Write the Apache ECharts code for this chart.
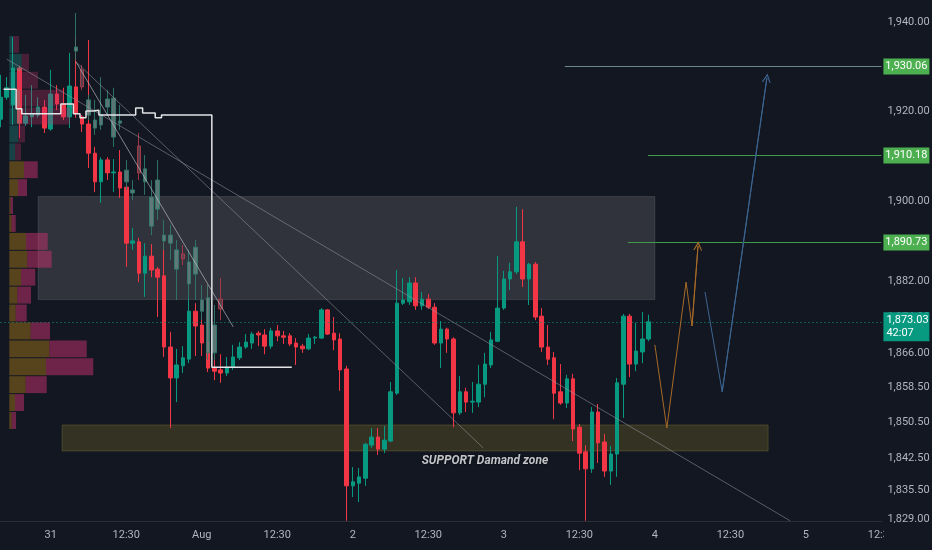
<!DOCTYPE html>
<html><head><meta charset="utf-8">
<script src="https://cdn.jsdelivr.net/npm/echarts@6/dist/echarts.min.js"></script>
<style>html,body{margin:0;padding:0;background:#131722;}#c{width:932px;height:550px;}</style>
</head><body><div id="c"></div>
<script>
// ---- axes ----
const slotCount = 141;
const categories = Array.from({length: slotCount}, (_, i) => 'bar ' + i);
const tickIndex = [8, 20, 32, 44, 56, 68, 80, 92, 104, 116, 128, 140];
const tickLabels = ['31', '12:30', 'Aug', '12:30', '2', '12:30', '3', '12:30', '4', '12:30', '5', '12:30'];
const priceTicks = [1829, 1835.5, 1842.5, 1850.5, 1858.5, 1866, 1874, 1882, 1900, 1920, 1940];
const priceMin = 1828.55, priceMax = 1944.91;

// ---- hourly candles ----
const openP = [1918.3,1923.2,1921.5,1929.7,1917.4,1918.8,1919.2,1921.0,1916.1,1923.9,
 1921.7,1918.8,1925.5,1918.8,1917.2,1910.7,1904.3,1909.2,1906.3,1906.5,
 1903.1,1890.6,1890.9,1883.9,1887.7,1884.8,1883.3,1867.4,1860.5,1863.2,
 1864.7,1875.4,1872.3,1868.5,1862.7,1862.3,1861.6,1862.9,1865.0,1867.4,
 1868.3,1870.5,1870.1,1867.6,1871.0,1869.9,1869.9,1868.3,1867.6,1867.0,
 1869.4,1869.4,1875.7,1870.5,1869.2,1862.5,1836.4,1837.0,1838.1,1845.5,
 1847.3,1844.6,1846.4,1857.1,1877.2,1877.5,1881.7,1876.6,1878.1,1876.3,
 1868.3,1871.4,1869.2,1852.7,1857.4,1855.1,1855.1,1859.1,1863.4,1868.7,
 1876.1,1882.6,1884.2,1890.9,1882.6,1885.9,1874.3,1867.4,1865.0,1857.4,
 1854.9,1860.3,1849.5,1844.0,1840.2,1852.9,1846.2,1839.7,1843.5,1859.1,
 1874.3,1863.6,1866.3,1869.2];
const closeP = [1923.2,1925.3,1929.7,1917.4,1919.0,1919.5,1921.0,1916.3,1923.9,1921.7,
 1918.8,1925.7,1919.5,1917.2,1910.7,1904.3,1909.2,1906.3,1906.5,1902.9,
 1890.6,1891.1,1883.9,1887.7,1884.6,1883.0,1867.4,1860.5,1863.4,1865.0,
 1875.4,1872.1,1868.3,1862.7,1862.0,1861.6,1862.9,1865.2,1867.4,1868.5,
 1870.3,1870.1,1867.6,1871.0,1869.9,1869.6,1868.1,1867.4,1867.0,1869.4,
 1869.6,1875.7,1870.3,1869.0,1862.3,1836.4,1837.3,1838.4,1845.7,1847.3,
 1844.6,1846.6,1857.4,1877.2,1877.9,1881.7,1876.6,1878.1,1876.3,1868.3,
 1871.4,1869.2,1852.7,1857.4,1855.1,1855.3,1859.1,1863.6,1869.0,1876.1,
 1882.6,1884.2,1890.9,1882.6,1885.9,1874.1,1867.4,1864.7,1857.1,1854.9,
 1860.3,1849.1,1843.7,1840.2,1852.9,1846.0,1839.7,1843.5,1859.4,1874.3,
 1863.6,1866.5,1869.2,1873.03];
const lowP = [1916.5,1922.6,1917.0,1914.1,1916.8,1916.5,1918.6,1915.2,1915.7,1920.3,
 1918.1,1916.3,1918.6,1915.4,1907.4,1902.0,1899.6,1904.7,1902.0,1900.7,
 1885.3,1889.1,1881.9,1878.6,1883.0,1874.1,1865.2,1849.3,1855.1,1861.6,
 1863.8,1865.4,1865.4,1861.8,1860.0,1859.4,1860.9,1862.3,1864.5,1867.0,
 1867.0,1867.6,1865.8,1867.0,1868.7,1868.1,1867.6,1863.4,1866.1,1866.7,
 1868.1,1869.2,1870.1,1866.7,1857.6,1828.6,1833.9,1832.8,1836.4,1844.8,
 1843.3,1843.7,1846.2,1856.7,1876.8,1876.8,1875.7,1875.7,1875.9,1867.9,
 1862.7,1866.1,1849.5,1852.2,1852.9,1852.7,1854.0,1856.2,1862.7,1868.5,
 1875.7,1880.1,1883.7,1880.8,1876.8,1873.4,1866.3,1863.4,1851.3,1854.5,
 1853.8,1846.4,1839.9,1828.6,1839.3,1841.5,1838.4,1836.6,1838.4,1851.6,
 1860.7,1862.0,1863.8,1868.7];
const highP = [1928.2,1927.7,1936.6,1930.2,1923.7,1925.9,1923.2,1922.6,1929.3,1925.9,
 1925.3,1933.1,1936.6,1919.2,1936.0,1912.1,1909.8,1909.8,1909.4,1911.4,
 1903.6,1894.0,1891.8,1890.6,1890.4,1885.3,1891.3,1870.8,1867.0,1867.6,
 1878.6,1877.2,1874.1,1881.3,1865.2,1865.8,1865.2,1867.9,1868.5,1870.3,
 1870.8,1871.0,1871.4,1871.7,1872.3,1871.0,1870.5,1869.4,1868.1,1870.3,
 1869.9,1876.1,1875.9,1874.1,1870.5,1863.2,1840.6,1840.4,1846.0,1849.3,
 1849.3,1849.8,1859.6,1884.6,1882.8,1883.0,1883.0,1879.7,1879.2,1877.2,
 1873.2,1871.7,1869.6,1860.9,1858.3,1859.6,1863.4,1866.1,1870.8,1887.7,
 1884.4,1886.2,1898.7,1898.2,1886.2,1886.4,1876.1,1872.3,1866.3,1863.6,
 1861.2,1861.4,1850.2,1845.5,1854.0,1854.7,1848.0,1845.3,1860.5,1874.8,
 1874.8,1872.8,1875.2,1874.6];

// ---- faded "bars pattern" projection ----
const ghostStart = 12;
const ghostOpen = [1933.5,1929.3,1919.2,1916.3,1917.0,1921.0,1914.3,1917.4,1904.3,1901.8,1912.3,1904.3,1894.4,1898.2,1891.1,1890.6,1884.8,1888.2,1881.5,1883.7,1875.4,1866.1,1866.1,1878.1];
const ghostClose = [1934.4,1925.5,1922.6,1918.1,1919.2,1922.8,1923.0,1917.9,1906.9,1902.5,1906.3,1907.2,1900.9,1904.7,1892.4,1892.4,1889.1,1887.1,1886.4,1889.7,1877.9,1878.4,1872.3,1875.9];
const ghostLow = [1931.5,1924.8,1918.1,1914.8,1915.9,1919.2,1912.1,1915.9,1902.5,1900.2,1904.7,1901.4,1892.4,1895.8,1889.1,1886.8,1877.9,1885.7,1877.9,1877.9,1873.4,1864.5,1864.5,1873.4];
const ghostHigh = [1942.0,1930.4,1923.7,1922.6,1927.7,1924.8,1925.3,1921.5,1909.2,1904.7,1915.2,1910.3,1904.7,1909.2,1895.8,1894.7,1891.3,1890.2,1889.1,1891.3,1881.3,1881.3,1876.8,1882.8];

// ---- volume profile (rows of 4 USD from 1849) ----
const vpBottom = 1849, vpStep = 4, vaTopRow = 14;
const vpUp =   [2.4,5.7,16.4,36.7,40.0,21.4,6.4,8.0,11.7,18.0,16.7,2.4,1.4,8.7,14.7,5.7,9.0,10.7,10.7,7.7,12.4,4.0];
const vpDown = [4.3,9.0,21.0,47.3,37.4,19.3,11.0,13.7,14.3,24.4,21.7,4.0,2.3,9.0,13.7,6.0,6.7,50.0,43.0,21.0,7.3,5.7];

// ---- drawings (x in bar units, y in price) ----
const resistZone = [[6.0, 1901.0], [104.0, 1878.0]];
const supportZone = [[9.8, 1850.0], [122.0, 1844.2]];
const supportText = 'SUPPORT Damand zone';
const supportTextAt = [77.0, 1841.9];
const levelValues = [1930.06, 1910.18, 1890.73];
const levelStart = [89.7, 102.9, 99.7];
const lastPrice = 1873.03, countdown = '42:07';
const trendStart = [[12.0, 1931.1], [12.0, 1931.1], [1.0, 1931.7]];
const trendEnd = [[37.0, 1871.9], [76.7, 1844.9], [125.5, 1828.6]];
const pathOrange = [[104.0, 1867.9], [105.9, 1849.3], [108.96, 1881.9], [109.9, 1872.1], [110.86, 1890.0]];
const pathBlue = [[111.97, 1879.7], [114.7, 1857.4], [121.8, 1927.5]];
const stepLine = [[0.5,1925.0],[2.5,1920.6],[3.4,1919.5],[9.6,1921.7],[11.6,1919.5],[12.65,1918.6],[13.6,1920.1],[14.7,1920.3],[15.65,1919.2],[21.5,1920.8],[22.6,1919.7],[24.6,1918.6],[25.6,1919.2],[33.6,1862.9],[46.3,1862.9]];

// ---------------------------------------------------------------
const FONT = 'Roboto, "DejaVu Sans", sans-serif';
const LABEL = '#b2b5be';
const ORANGE = '#a86a26', BLUE = '#3c6592';
const fmt = v => v.toLocaleString('en-US', {minimumFractionDigits: 2, maximumFractionDigits: 2});
const candleData = openP.map((o, i) => [o, closeP[i], lowP[i], highP[i]]);
const ghostData = ghostOpen.map((o, j) => [ghostStart + j, o, ghostClose[j], ghostLow[j], ghostHigh[j]]);
const vpData = vpUp.map((u, i) => [u, vpBottom + i * vpStep + vpStep / 2, vpDown[i], i]);
const lastIdx = slotCount - 1;
const chevron = 'path://M5,0 L10,9 L8.6,9 L5,2.6 L1.4,9 L0,9 Z';
const lastSeg = p => [p[p.length - 2], p[p.length - 1]];

const chart = echarts.init(document.getElementById('c'));
chart.setOption({
  animation: false,
  backgroundColor: '#131722',
  textStyle: {fontFamily: FONT},
  grid: {left: 0.4, right: 50.6, top: 0, bottom: 29, containLabel: false, outerBoundsMode: 'none'},
  xAxis: [
    {type: 'category', data: categories, boundaryGap: false,
     axisLine: {show: true, lineStyle: {color: '#2a2e39'}}, axisTick: {show: false},
     splitLine: {show: false},
     axisLabel: {interval: (i) => tickIndex.includes(i),
       formatter: (v, i) => tickLabels[tickIndex.indexOf(i)] || '',
       color: LABEL, fontSize: 11, margin: 9, fontFamily: FONT}},
    {type: 'value', min: 0, max: lastIdx, show: false},
    {type: 'value', min: -8.9, max: 872.05, show: false}
  ],
  yAxis: {type: 'value', position: 'right', min: priceMin, max: priceMax, scale: true,
    axisLine: {show: false}, axisTick: {show: false}, splitLine: {show: false},
    axisLabel: {customValues: priceTicks, formatter: fmt, color: LABEL, fontSize: 11, margin: 6, fontFamily: FONT}},
  graphic: [{type: 'rect', left: 884, top: 523, shape: {width: 48, height: 27}, style: {fill: '#131722'}, z: 100}],
  series: [
    {type: 'candlestick', name: 'XAUUSD', xAxisIndex: 0, yAxisIndex: 0, z: 2, barWidth: 4,
     data: candleData,
     itemStyle: {color: '#089981', color0: '#f23645', borderColor: '#089981', borderColor0: '#f23645', borderWidth: 1}},
    {type: 'candlestick', name: 'pattern', xAxisIndex: 0, yAxisIndex: 0, z: 3, barWidth: 4,
     data: ghostData, encode: {x: 0, y: [1, 2, 3, 4]},
     itemStyle: {color: '#66827f', color0: '#624652', borderColor: '#2f7c6e', borderColor0: '#b33a4a', borderWidth: 1, opacity: 0.88}},
    {type: 'line', name: 'zones', xAxisIndex: 1, yAxisIndex: 0, z: 4, data: [], silent: true,
     markArea: {silent: true, data: [
       [{coord: resistZone[0], itemStyle: {color: 'rgba(135,135,140,0.25)', borderColor: 'rgba(150,150,155,0.22)', borderWidth: 1}}, {coord: resistZone[1]}],
       [{coord: supportZone[0], itemStyle: {color: 'rgba(150,135,40,0.25)', borderColor: 'rgba(150,140,60,0.3)', borderWidth: 1}}, {coord: supportZone[1]}]
     ]}},
    {type: 'custom', name: 'volume profile', xAxisIndex: 2, yAxisIndex: 0, z: 5, silent: true,
     data: vpData, encode: {x: 0, y: 1},
     renderItem: (params, api) => {
       const up = api.value(0), mid = api.value(1), dn = api.value(2), row = api.value(3);
       const lo = mid - vpStep / 2, hi = mid + vpStep / 2;
       const a = api.coord([0, hi]), b = api.coord([up, lo]), c = api.coord([up + dn, lo]);
       const inVA = row <= vaTopRow;
       const y = a[1] + 0.5, h = b[1] - a[1] - 1;
       return {type: 'group', children: [
         {type: 'rect', shape: {x: a[0], y: y, width: b[0] - a[0], height: h},
          style: {fill: inVA ? 'rgba(170,125,25,0.45)' : 'rgba(38,166,154,0.3)'}},
         {type: 'rect', shape: {x: b[0], y: y, width: c[0] - b[0], height: h},
          style: {fill: inVA ? 'rgba(200,50,110,0.5)' : 'rgba(200,50,110,0.3)'}}
       ]};
     }},
    {type: 'lines', name: 'trend', coordinateSystem: 'cartesian2d', xAxisIndex: 1, yAxisIndex: 0, z: 6, silent: true,
     data: trendStart.map((s, i) => ({coords: [s, trendEnd[i]],
       lineStyle: {color: i === 0 ? 'rgba(205,205,210,0.6)' : 'rgba(150,152,160,0.55)', width: 1}})),
     lineStyle: {width: 1, opacity: 1}},
    {type: 'lines', name: 'projection', coordinateSystem: 'cartesian2d', xAxisIndex: 1, yAxisIndex: 0, z: 6, silent: true,
     polyline: true,
     data: [
       {coords: pathOrange, lineStyle: {color: ORANGE, width: 1}},
       {coords: pathBlue, lineStyle: {color: BLUE, width: 1}}
     ],
     lineStyle: {width: 1, opacity: 1}},
    {type: 'lines', name: 'projection heads', coordinateSystem: 'cartesian2d', xAxisIndex: 1, yAxisIndex: 0, z: 6, silent: true,
     symbol: ['none', chevron], symbolSize: 9,
     data: [
       {coords: lastSeg(pathOrange), lineStyle: {color: ORANGE, width: 1}, itemStyle: {color: ORANGE}},
       {coords: lastSeg(pathBlue), lineStyle: {color: BLUE, width: 1}, itemStyle: {color: BLUE}}
     ],
     lineStyle: {width: 1, opacity: 1}},
    {type: 'line', name: 'anchored', xAxisIndex: 1, yAxisIndex: 0, z: 7, silent: true,
     data: stepLine, step: 'end', symbol: 'none', lineStyle: {color: '#e4e4e6', width: 1.5}},
    {type: 'line', name: 'levels', xAxisIndex: 1, yAxisIndex: 0, z: 8, data: [], silent: true,
     markLine: {silent: true, symbol: ['none', 'none'], label: {show: false},
       data: levelValues.map((v, i) => [
         {coord: [levelStart[i], v], lineStyle: {color: i === 0 ? '#6d8792' : '#3f9a4a', width: 1, type: 'solid'}},
         {coord: [lastIdx, v]}
       ]).concat([[
         {coord: [0, lastPrice], lineStyle: {color: '#089981', width: 1, type: [1, 3]}},
         {coord: [lastIdx, lastPrice]}
       ]])},
     markPoint: {silent: true, data: levelValues.map(v => ({
         coord: [lastIdx, v], symbol: 'rect', symbolSize: [46, 16], symbolOffset: [25, 0],
         itemStyle: {color: '#4caf50'},
         label: {show: true, position: 'inside', formatter: fmt(v), color: '#ffffff', fontSize: 11, fontFamily: FONT}
       })).concat([
         {coord: [lastIdx, lastPrice], symbol: 'rect', symbolSize: [46, 29], symbolOffset: [25, 5],
          itemStyle: {color: '#089981'},
          label: {show: true, position: 'insideLeft', distance: 3, formatter: fmt(lastPrice) + '\n' + countdown,
            color: '#ffffff', fontSize: 11, lineHeight: 13, fontFamily: FONT}},
         {coord: supportTextAt, symbol: 'rect', symbolSize: 1, itemStyle: {color: 'rgba(0,0,0,0)'},
          label: {show: true, position: 'inside', formatter: supportText, color: '#c3c4c8', fontSize: 12,
            fontStyle: 'italic', fontWeight: 'bold', fontFamily: FONT,
            textShadowColor: 'rgba(0,0,0,0.7)', textShadowBlur: 2}}
       ])}}
  ]
});
</script>
</body></html>
